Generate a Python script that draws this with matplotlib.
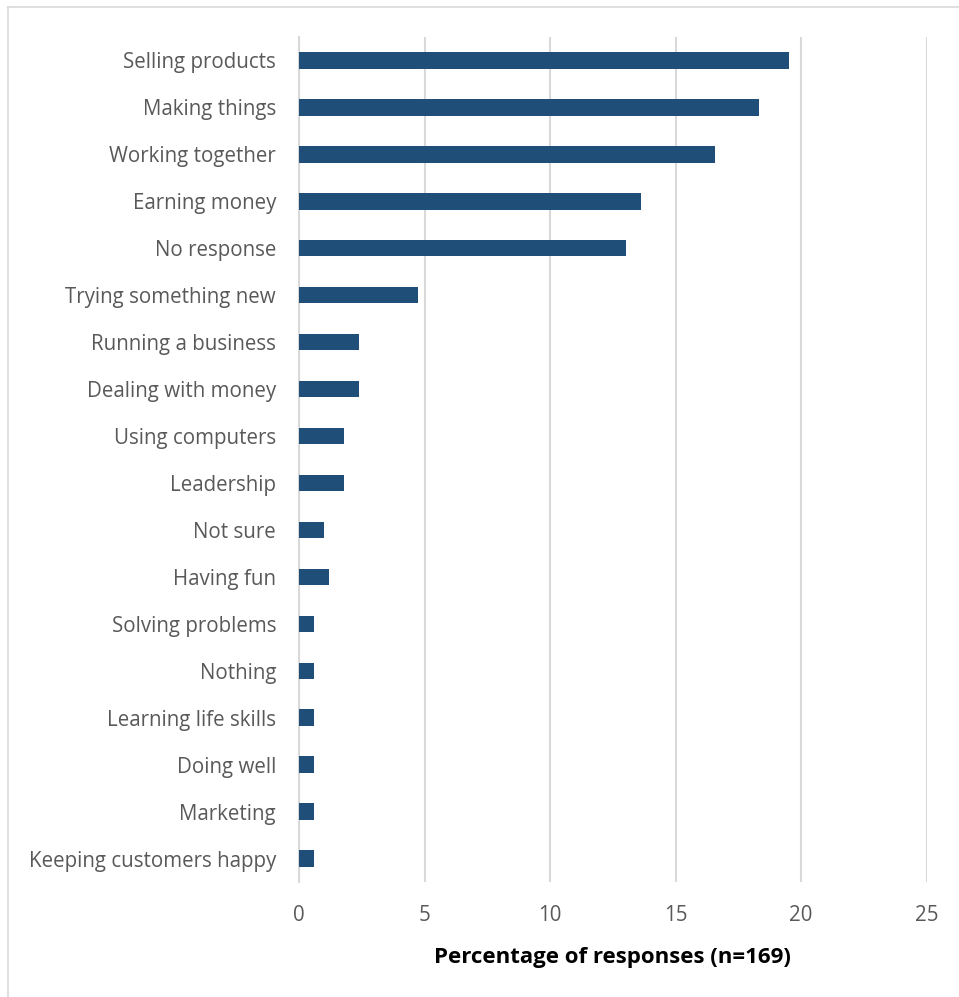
import matplotlib.pyplot as plt
from matplotlib.lines import Line2D

categories = [
    "Selling products", "Making things", "Working together", "Earning money",
    "No response", "Trying something new", "Running a business",
    "Dealing with money", "Using computers", "Leadership", "Not sure",
    "Having fun", "Solving problems", "Nothing", "Learning life skills",
    "Doing well", "Marketing", "Keeping customers happy",
]
percent = [19.53, 18.34, 16.57, 13.61, 13.02, 4.73, 2.37, 2.37, 1.78, 1.78,
           1.0, 1.18, 0.59, 0.59, 0.59, 0.59, 0.59, 0.59]
xticks = [0, 5, 10, 15, 20, 25]

plt.rcParams['font.family'] = ['Open Sans', 'DejaVu Sans']
text_col = '#595959'
grid_col = '#D9D9D9'

fig = plt.figure(figsize=(9.59, 9.97), dpi=100)
ax = fig.add_axes([299 / 959, (997 - 882) / 997, (926.7 - 299) / 959, (882 - 37) / 997])

pos = list(range(len(categories)))
ax.barh(pos, percent, height=0.35, color='#1F4E79', zorder=3)
ax.set_ylim(len(categories) - 0.5, -0.5)
ax.set_xlim(0, 25)

ax.set_yticks(pos)
ax.set_yticklabels(categories, fontsize=14.8, color=text_col)
ax.set_xticks(xticks)
ax.set_xticklabels([str(t) for t in xticks], fontsize=14.8, color=text_col)
ax.tick_params(axis='both', length=0)
ax.tick_params(axis='y', pad=16.5)
ax.tick_params(axis='x', pad=16.5)

ax.grid(axis='x', color=grid_col, linewidth=1.5, zorder=0)
for s in ['top', 'right', 'bottom']:
    ax.spines[s].set_visible(False)
ax.spines['left'].set_color(grid_col)
ax.spines['left'].set_linewidth(1.5)

ax.set_xlabel('Percentage of responses (n=169)', fontsize=16,
              fontweight='bold', color='black', labelpad=15)

# outer chart border (only top and left visible in the crop)
fig.add_artist(Line2D([8 / 959, 8 / 959], [0, 1 - 7 / 997], transform=fig.transFigure,
                      color=grid_col, linewidth=1.2))
fig.add_artist(Line2D([8 / 959, 1], [1 - 7 / 997, 1 - 7 / 997], transform=fig.transFigure,
                      color=grid_col, linewidth=1.2))

fig.savefig('out.png', dpi=100)
